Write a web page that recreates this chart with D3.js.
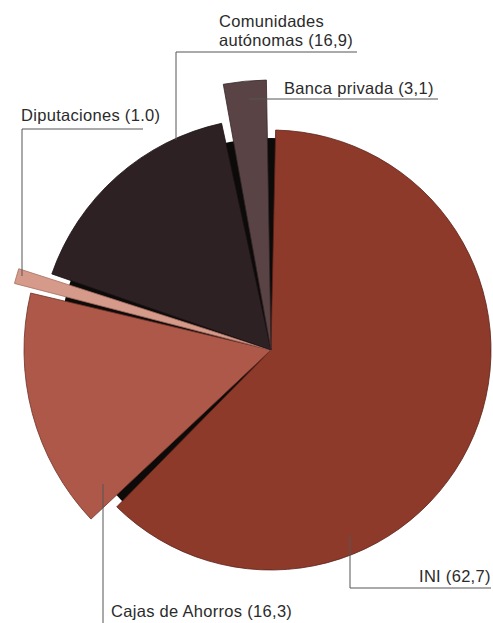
<!DOCTYPE html>
<html>
<head>
<meta charset="utf-8">
<script src="https://cdn.jsdelivr.net/npm/d3@7"></script>
<style>
  html, body { margin: 0; padding: 0; background: #fff; }
  svg text { font-family: "Liberation Sans", Arial, Helvetica, sans-serif; fill: #2b2b2b; }
</style>
</head>
<body>
<div id="chart"></div>
<script>
// --- Data (clockwise from 12 o'clock) ---
const categories = ["INI", "Cajas de Ahorros", "Diputaciones", "Comunidades autónomas", "Banca privada"];
const values = [62.7, 16.3, 1.0, 16.9, 3.1];
const valueLabels = ["62,7", "16,3", "1.0", "16,9", "3,1"];

// --- Layout & style ---
const width = 493, height = 623;
const center = { x: 271, y: 350 };
const colors = ["#8e3a2b", "#ad5848", "#d69a8b", "#2d2123", "#5a4345"];
const strokes = ["#5a2218", "#6e3328", "#a66d60", "#1a1213", "#352628"];
const outerRadius = [220, 247, 265, 232, 270]; // slices pulled out to different lengths
const padAngles = [0.042, 0.042, 0.006, 0.042, 0.042];
const shadowRadius = 212;

// label placement: text lines, anchor point and leader polyline
const labels = [
  { lines: [`INI (${valueLabels[0]})`], x: 419, y: 582,
    leader: [[350, 535], [350, 588], [491, 588]] },
  { lines: [`Cajas de Ahorros (${valueLabels[1]})`], x: 111, y: 617,
    leader: [[103, 484], [103, 623]] },
  { lines: [`Diputaciones (${valueLabels[2]})`], x: 21, y: 121,
    leader: [[22, 276], [22, 129], [143, 129]] },
  { lines: ["Comunidades", `autónomas (${valueLabels[3]})`], x: 219, y: 27,
    leader: [[176, 140], [176, 52], [357, 52]] },
  { lines: [`Banca privada (${valueLabels[4]})`], x: 284, y: 94,
    leader: [[249, 99], [438, 99]] }
];

const svg = d3.select("#chart").append("svg")
  .attr("width", width)
  .attr("height", height);

const g = svg.append("g").attr("transform", `translate(${center.x},${center.y})`);

const pie = d3.pie().sort(null).value(d => d)(values);

// dark "shadow" disc that shows through the gaps
g.append("circle")
  .attr("r", shadowRadius)
  .attr("fill", "#0d0a0a");

const arc = d3.arc()
  .innerRadius(0)
  .outerRadius((d, i) => outerRadius[i])
  .padRadius(220)
  .padAngle((d, i) => padAngles[i]);

g.selectAll("path.slice")
  .data(pie)
  .enter().append("path")
  .attr("class", "slice")
  .attr("d", (d, i) => arc(d, i))
  .attr("fill", (d, i) => colors[i])
  .attr("stroke", (d, i) => strokes[i])
  .attr("stroke-width", 0.8);

// leaders
const line = d3.line();
svg.append("g").attr("class", "leaders")
  .selectAll("path")
  .data(labels)
  .enter().append("path")
  .attr("d", d => line(d.leader))
  .attr("fill", "none")
  .attr("stroke", "#555")
  .attr("stroke-width", 1);

// texts
const txt = svg.append("g").attr("class", "labels")
  .selectAll("text")
  .data(labels)
  .enter().append("text")
  .attr("x", d => d.x)
  .attr("y", d => d.y)
  .attr("font-size", 16.5)
  .attr("letter-spacing", 0.3);

txt.selectAll("tspan")
  .data(d => d.lines.map((t, k) => ({ t, k, x: d.x })))
  .enter().append("tspan")
  .attr("x", d => d.x)
  .attr("dy", d => d.k === 0 ? 0 : 19)
  .text(d => d.t);
</script>
</body>
</html>
